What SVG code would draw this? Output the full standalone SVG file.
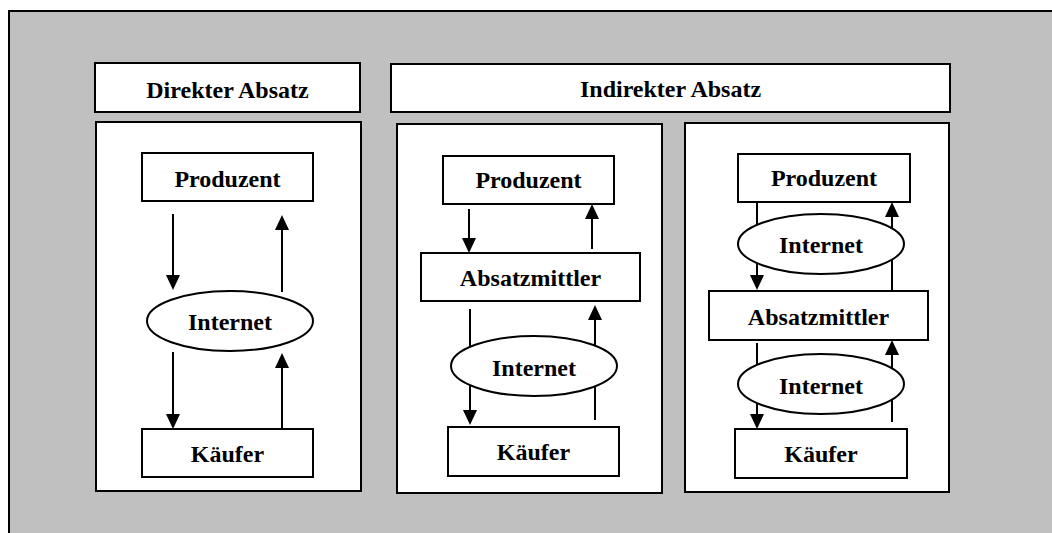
<svg xmlns="http://www.w3.org/2000/svg" width="1052" height="533" viewBox="0 0 1052 533">
<style>
.bg{fill:#c0c0c0;stroke:#000;stroke-width:2}
.box{fill:#fff;stroke:#000;stroke-width:2}
.conn line{stroke:#000;stroke-width:2}
text{font-family:"Liberation Serif","Times New Roman",serif;font-weight:bold;font-size:24px;fill:#000;text-anchor:middle}
</style>
<defs>
<marker id="ah" viewBox="0 0 15 14" markerWidth="15" markerHeight="14" refX="13" refY="7" orient="auto" markerUnits="userSpaceOnUse">
<path d="M0,0 L15,7 L0,14 z" fill="#000"/>
</marker>
</defs>
<rect class="bg" x="9" y="11" width="1060" height="540"/>
<g id="hdr-direkt"><rect class="box" x="95" y="63" width="265" height="49"/><text x="227.5" y="98">Direkter Absatz</text></g>
<g id="hdr-indirekt"><rect class="box" x="391" y="64" width="559" height="48"/><text x="670.5" y="97">Indirekter Absatz</text></g>
<g id="panel-left"><rect class="box" x="96" y="122" width="265" height="369"/></g>
<g id="panel-mid"><rect class="box" x="397" y="124" width="265" height="369"/></g>
<g id="panel-right"><rect class="box" x="685" y="123" width="264" height="369"/></g>
<g id="connectors" class="conn">
<line x1="173" y1="214" x2="173" y2="288" marker-end="url(#ah)"/>
<line x1="282" y1="292" x2="282" y2="217" marker-end="url(#ah)"/>
<line x1="173" y1="352" x2="173" y2="427" marker-end="url(#ah)"/>
<line x1="282" y1="429" x2="282" y2="355" marker-end="url(#ah)"/>
<line x1="469" y1="209" x2="469" y2="251" marker-end="url(#ah)"/>
<line x1="592" y1="249" x2="592" y2="206" marker-end="url(#ah)"/>
<line x1="470" y1="309" x2="470" y2="423" marker-end="url(#ah)"/>
<line x1="595" y1="420" x2="595" y2="307" marker-end="url(#ah)"/>
<line x1="757" y1="202" x2="757" y2="288" marker-end="url(#ah)"/>
<line x1="892" y1="291" x2="892" y2="204" marker-end="url(#ah)"/>
<line x1="757" y1="343" x2="757" y2="427" marker-end="url(#ah)"/>
<line x1="892" y1="422" x2="892" y2="342" marker-end="url(#ah)"/>
</g>
<g id="l-produzent"><rect class="box" x="142" y="153" width="171" height="48"/><text x="227.5" y="187">Produzent</text></g>
<g id="l-internet"><ellipse class="box" cx="230" cy="321" rx="83" ry="30"/><text x="230" y="330">Internet</text></g>
<g id="l-kaeufer"><rect class="box" x="142" y="429" width="171" height="48"/><text x="227.5" y="462">Käufer</text></g>
<g id="m-produzent"><rect class="box" x="443" y="156" width="171" height="48"/><text x="528.5" y="188">Produzent</text></g>
<g id="m-absatzmittler"><rect class="box" x="421" y="253" width="219" height="48"/><text x="530.5" y="286">Absatzmittler</text></g>
<g id="m-internet"><ellipse class="box" cx="534" cy="366" rx="83" ry="30"/><text x="534" y="376">Internet</text></g>
<g id="m-kaeufer"><rect class="box" x="448" y="427" width="171" height="49"/><text x="533.5" y="460">Käufer</text></g>
<g id="r-produzent"><rect class="box" x="738" y="154" width="172" height="48"/><text x="824" y="186">Produzent</text></g>
<g id="r-internet1"><ellipse class="box" cx="821" cy="244" rx="83" ry="30"/><text x="821" y="253">Internet</text></g>
<g id="r-absatzmittler"><rect class="box" x="709" y="291" width="219" height="49"/><text x="818.5" y="325">Absatzmittler</text></g>
<g id="r-internet2"><ellipse class="box" cx="821" cy="384" rx="83" ry="30"/><text x="821" y="394">Internet</text></g>
<g id="r-kaeufer"><rect class="box" x="735" y="429" width="172" height="49"/><text x="821" y="462">Käufer</text></g>
</svg>
